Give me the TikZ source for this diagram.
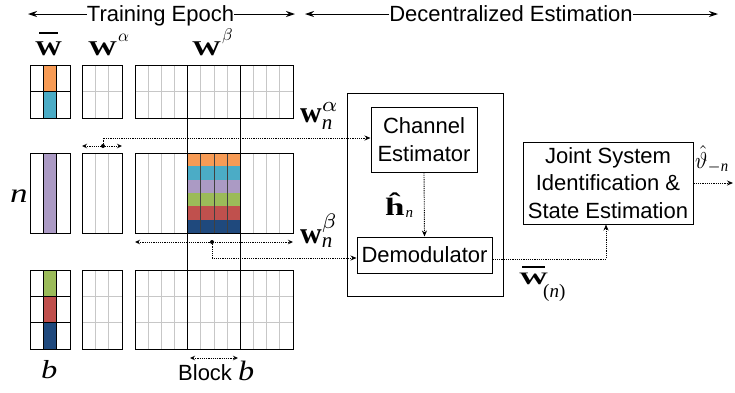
\documentclass[tikz,border=0pt]{standalone}
\usepackage{amsmath}
\usepackage{fontspec}
\usetikzlibrary{arrows.meta,calc}
\newfontfamily\sansf{Liberation Sans}
\newfontfamily\tms{Liberation Serif}
\newcommand{\wb}{\text{\tms\bfseries w}}
\newcommand{\itn}{\text{\tms\itshape n}}
% bold W with a bar: #1 = raise of bar, #2 = bar width
\newcommand{\barW}[2]{{\tms\bfseries\ooalign{W\cr\hidewidth\raisebox{#1}{\rule{#2}{0.11em}}\hidewidth\cr}}}
\definecolor{cOr}{HTML}{F79B55}
\definecolor{cBl}{HTML}{4BACC6}
\definecolor{cPu}{HTML}{AB9AC4}
\definecolor{cGr}{HTML}{9BBB59}
\definecolor{cRe}{HTML}{C0504D}
\definecolor{cDb}{HTML}{1F497D}
\tikzset{
  blk/.style={draw, line width=1pt, fill=white, font=\sansf\fontsize{22}{27.5}\selectfont, align=center, inner sep=0pt},
  dotarrow/.style={line width=0.9pt, dash pattern=on 1.2pt off 1pt, -{Stealth[length=6pt,width=5pt]}},
  dbl/.style={line width=0.9pt, dash pattern=on 1.2pt off 1pt, {Stealth[length=5pt,width=4.5pt,open]}-{Stealth[length=5pt,width=4.5pt,open]}},
  grayline/.style={draw=black!22, line width=0.9pt},
  blackline/.style={draw=black, line width=1pt},
  lbl/.style={inner sep=0pt, anchor=base west, font=\fontsize{10}{12}\selectfont},
  toparrow/.style={line width=1pt, -{Stealth[length=9pt,width=6pt]}},
  sanstext/.style={inner sep=0pt, font=\sansf\fontsize{22}{27.5}\selectfont},
}
\begin{document}
\begin{tikzpicture}[x=1pt,y=-1pt]
\useasboundingbox (0,0) rectangle (735,392);

% ---------- header ----------
\node[sanstext, anchor=base] (te) at (160.5,21) {Training Epoch};
\node[sanstext, anchor=base] (de) at (511,21) {Decentralized Estimation};
\coordinate (teL) at (28,14);
\coordinate (teR) at (295,14);
\coordinate (deL) at (305,14);
\coordinate (deR) at (718,14);
\draw[toparrow] ([yshift=7pt]te.base west) -- (teL);
\draw[toparrow] ([yshift=7pt]te.base east) -- (teR);
\draw[toparrow] ([yshift=7pt]de.base west) -- (deL);
\draw[toparrow] ([yshift=7pt]de.base east) -- (deR);

% ---------- matrix labels ----------
\node[lbl] (lWb) at (35,55) {\scalebox{2.7}[2.1]{\barW{1.0em}{0.7em}}};
\node[lbl] (lWa) at (88,55) {\scalebox{2.9}[2.1]{\tms\bfseries W}\hspace{1pt}\raisebox{14pt}{\scalebox{1.7}{$\alpha$}}};
\node[lbl] (lWbeta) at (192,55) {\scalebox{2.9}[2.1]{\tms\bfseries W}\hspace{1pt}\raisebox{15pt}{\scalebox{1.7}{$\beta$}}};
\node[lbl, font=\tms\itshape\fontsize{27}{30}\selectfont] (ln) at (10,202) {\scalebox{1.3}[1]{n}};
\node[lbl, font=\tms\itshape\fontsize{26}{30}\selectfont] (lb) at (41,378) {\scalebox{1.25}[1]{b}};
\node[lbl, font=\sansf\fontsize{22}{27.5}\selectfont] (lblock) at (178,380) {Block {\tms\itshape\fontsize{28}{30}\selectfont\scalebox{1.15}[1]{b}}};

% ---------- gray grid lines ----------
\foreach \yt/\yb in {65/118,153/233,270/349}{
  \draw[grayline] (95.33,\yt) -- (95.33,\yb);
  \draw[grayline] (108.67,\yt) -- (108.67,\yb);
}
\draw[grayline] (82,91.5) -- (122,91.5);
\draw[grayline] (82,296.33) -- (122,296.33);
\draw[grayline] (82,322.67) -- (122,322.67);
\foreach \i in {1,...,11}{
  \draw[grayline] ({135+\i*158/12},65) -- ({135+\i*158/12},118);
  \draw[grayline] ({135+\i*158/12},153) -- ({135+\i*158/12},233);
  \draw[grayline] ({135+\i*158/12},270) -- ({135+\i*158/12},349);
}
\draw[grayline] (135,91.5) -- (293,91.5);
\draw[grayline] (135,296.33) -- (293,296.33);
\draw[grayline] (135,322.67) -- (293,322.67);

% ---------- colour fills ----------
\fill[cOr] (43.33,65) rectangle (56.67,91.5);
\fill[cBl] (43.33,91.5) rectangle (56.67,118);
\fill[cPu] (43.33,153) rectangle (56.67,233);
\fill[cGr] (43.33,270) rectangle (56.67,296.33);
\fill[cRe] (43.33,296.33) rectangle (56.67,322.67);
\fill[cDb] (43.33,322.67) rectangle (56.67,349);
\foreach \c [count=\k from 0] in {cOr,cBl,cPu,cGr,cRe,cDb}
  \fill[\c] (187.67,{153+\k*80/6}) rectangle (240.33,{153+(\k+1)*80/6});
\foreach \xx in {200.83,214,227.17}
  \draw[black!75, line width=1pt] (\xx,153) -- (\xx,233);

% ---------- black lines ----------
\foreach \yt/\yb in {65/118,153/233,270/349}{
  \draw[blackline] (43.33,\yt) -- (43.33,\yb);
  \draw[blackline] (56.67,\yt) -- (56.67,\yb);
  \draw[blackline] (30,\yt) rectangle (70,\yb);
  \draw[blackline] (82,\yt) rectangle (122,\yb);
  \draw[blackline] (135,\yt) rectangle (293,\yb);
}
\draw[blackline] (30,91.5) -- (70,91.5);
\draw[blackline] (30,296.33) -- (70,296.33);
\draw[blackline] (30,322.67) -- (70,322.67);
\draw[blackline] (187.67,65) -- (187.67,349);
\draw[blackline] (240.33,65) -- (240.33,349);

% ---------- processing blocks ----------
\node[draw, line width=1pt, minimum width=156pt, minimum height=203pt, inner sep=0pt] (outer) at (425,194.5) {};
\node[blk, minimum width=106pt, minimum height=65pt] (chan) at (424,139.5) {Channel\\Estimator};
\node[blk, minimum width=135pt, minimum height=36pt] (demod) at (424.5,255) {Demodulator};
\node[blk, minimum width=170pt, minimum height=82pt] (joint) at (608,183) {Joint System\\Identification \&\\State Estimation};

% ---------- signal labels ----------
\node[lbl] (lwa) at (300,122) {\scalebox{3}{$\wb^{\alpha}_{\itn}$}};
\node[lbl] (lwb) at (300,243) {\scalebox{3}{$\wb^{\beta}_{\itn}$}};
\node[lbl] (lh) at (385,215) {\scalebox{3.5}[2.5]{\tms\bfseries ĥ}\hspace{1pt}\raisebox{-2pt}{\tms\itshape\fontsize{15}{16}\selectfont n}};
\node[lbl] (lWn) at (519,284) {\scalebox{2.9}[1.75]{\barW{0.9em}{0.8em}}\hspace{-5pt}\raisebox{-13pt}{\tms\fontsize{19}{20}\selectfont (\textit{n})}};
\node[lbl] (lth) at (695,168) {\scalebox{2.1}[2.3]{$\hat{\vartheta}_{-\itn}$}};

% ---------- connectors ----------
\coordinate (aL) at (82,146);
\coordinate (aR) at (122,146);
\coordinate (aM) at (103,146);
\draw[dbl] (aL) -- (aR);
\fill (aM) circle (2pt);
\draw[dotarrow] (aM) |- ([yshift=1.5pt]chan.west);

\coordinate (bL) at (135,242);
\coordinate (bR) at (293,242);
\coordinate (bM) at (212,242);
\draw[dbl] (bL) -- (bR);
\fill (bM) circle (2pt);
\draw[dotarrow] (bM) |- ([yshift=-3pt]demod.west);

\draw[dotarrow] (chan.south) -- (demod.north);
\draw[dotarrow] ([yshift=-4pt]demod.east) -| ([xshift=-2pt]joint.south);
\coordinate (out) at (733,183);
\draw[dotarrow] (joint.east) -- (out);

\coordinate (kL) at (190,358);
\coordinate (kR) at (238,358);
\draw[dbl] (kL) -- (kR);
\end{tikzpicture}
\end{document}
